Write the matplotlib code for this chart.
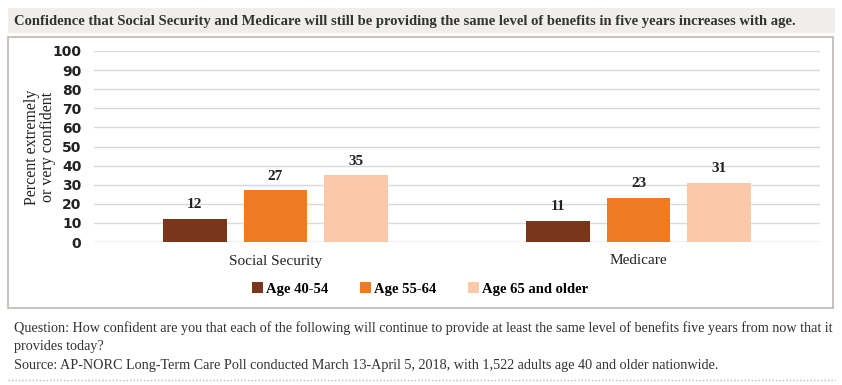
import numpy as np
import matplotlib.pyplot as plt
from matplotlib.patches import Rectangle, Patch
from matplotlib.lines import Line2D

categories = ['Social Security', 'Medicare']
series_names = ['Age 40-54', 'Age 55-64', 'Age 65 and older']
values = [
    [12, 11],
    [27, 23],
    [35, 31],
]
colors = ['#79361a', '#ee7a24', '#fac9aa']
yticks = [0, 10, 20, 30, 40, 50, 60, 70, 80, 90, 100]

title = 'Confidence that Social Security and Medicare will still be providing the same level of benefits in five years increases with age.'
note_lines = [
    'Question: How confident are you that each of the following will continue to provide at least the same level of benefits five years from now that it',
    'provides today?',
    'Source: AP-NORC Long-Term Care Poll conducted March 13-April 5, 2018, with 1,522 adults age 40 and older nationwide.',
]

W, H = 842, 385
fig = plt.figure(figsize=(W / 100, H / 100), dpi=100)
serif = 'Liberation Serif'

# title band and chart frame
fig.patches.append(Rectangle((8 / W, 1 - 33 / H), 827 / W, 25 / H, transform=fig.transFigure,
                             facecolor='#efeeea', edgecolor='none', zorder=-2))
fig.patches.append(Rectangle((8 / W, 1 - 308 / H), 825 / W, 271 / H, transform=fig.transFigure,
                             facecolor='white', edgecolor='#bdb8b2', linewidth=1.2, zorder=-2))
fig.text(14 / W, 1 - 21 / H, title, fontsize=10.5, fontweight='bold', family=serif,
         color='#333333', va='center', ha='left')

ax = fig.add_axes([94 / W, 1 - 242 / H, 726 / W, 191 / H])
ax.set_zorder(2)
ax.patch.set_alpha(0)
x = np.arange(len(categories))
width = 0.175
offsets = [-0.222, 0, 0.222]
for i, name in enumerate(series_names):
    bars = ax.bar(x + offsets[i], values[i], width, color=colors[i], label=name, zorder=3)
    for b, v in zip(bars, values[i]):
        ax.text(b.get_x() + b.get_width() / 2, v + 4, str(v), ha='center', va='bottom',
                fontsize=11, family=serif, fontweight='bold', color='#222222')

ax.set_xlim(-0.5, 1.5)
ax.set_ylim(0, 100)
ax.set_yticks(yticks)
ax.set_yticklabels([str(t) for t in yticks], fontsize=10, fontweight='bold', color='#222222')
ax.yaxis.grid(True, color='#d9d9d9', linewidth=1, zorder=0)
ax.set_axisbelow(True)
ax.tick_params(axis='y', length=0, pad=9)
ax.tick_params(axis='x', length=0, pad=9)
ax.set_xticks(x)
ax.set_xticklabels(categories, fontsize=11, family=serif, color='#222222')
for s in ax.spines.values():
    s.set_visible(False)
ax.axhline(0, color='#d9d9d9', linewidth=1, zorder=2)

fig.text(40 / W, 1 - 147 / H, 'Percent extremely\nor very confident', rotation=90,
         ha='center', va='center', fontsize=11.5, family=serif, color='#222222',
         linespacing=0.95)

handles = [Patch(facecolor=c, edgecolor='none') for c in colors]
fig.legend(handles, series_names, loc='center', bbox_to_anchor=(420 / W, 1 - 289 / H),
           ncol=3, frameon=False, handlelength=0.75, handleheight=0.75, handletextpad=0.2,
           columnspacing=2.2, prop={'family': serif, 'size': 10.5, 'weight': 'bold'})

for i, line in enumerate(note_lines):
    fig.text(14 / W, 1 - (328 + 18.5 * i) / H, line, fontsize=10.2, family=serif,
             color='#333333', va='center', ha='left')
fig.add_artist(Line2D([8 / W, 835 / W], [1 - 380 / H, 1 - 380 / H], transform=fig.transFigure,
                      color='#bdb8b2', linewidth=1, linestyle=(0, (1, 1.5))))

fig.savefig('out.png', dpi=100)
